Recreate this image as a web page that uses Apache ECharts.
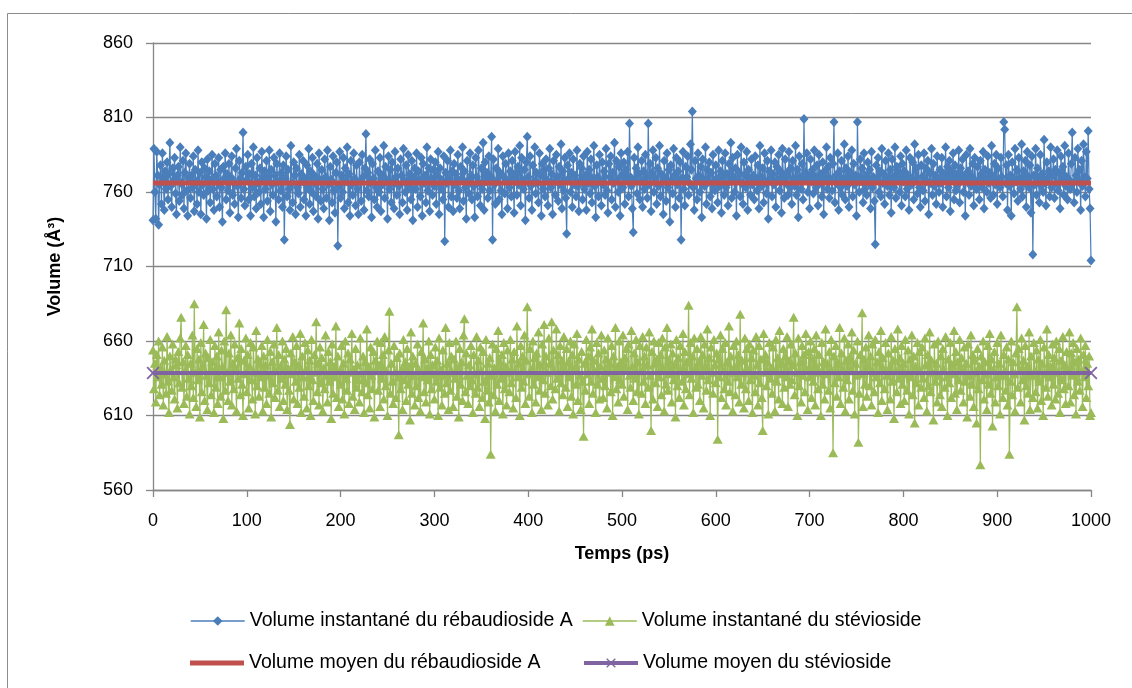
<!DOCTYPE html>
<html>
<head>
<meta charset="utf-8">
<script src="https://cdn.jsdelivr.net/npm/echarts@6/dist/echarts.min.js"></script>
<style>
  html, body { margin: 0; padding: 0; background: #fff; }
  #chart { width: 1132px; height: 688px; }
</style>
</head>
<body>
<div id="chart"></div>
<script>
// volume instantané du rébaudioside A, un point par ps (0 -> 1000)
var volRebA = [
  741,789,760,742,787,771,738,765,778,752,786,769,748,774,762,780,755,772,793,764,
  750,776,768,783,759,745,771,777,754,790,766,758,781,749,773,786,761,744,769,779,
  756,771,763,784,747,775,767,752,788,760,773,745,780,765,758,776,770,742,782,761,
  774,753,768,785,762,748,779,771,757,766,783,750,775,763,740,777,769,786,755,772,
  761,779,746,770,784,758,767,752,776,789,764,743,781,769,756,773,800,762,751,777,
  768,785,755,772,744,779,763,790,757,771,749,783,766,760,776,752,787,769,743,774,
  762,781,754,770,788,747,775,765,758,783,771,740,779,767,755,786,761,773,750,778,
  728,769,784,757,775,762,748,791,766,753,780,771,745,776,763,759,785,750,772,767,
  781,755,769,744,778,763,789,752,774,760,783,747,771,766,757,779,742,786,768,754,
  775,762,749,782,770,756,788,765,741,777,768,753,784,761,746,773,780,724,764,787,
  756,771,760,783,749,776,767,790,753,772,744,781,765,758,786,769,751,778,762,745,
  780,767,754,785,770,748,776,799,761,773,757,782,766,743,779,769,755,788,763,750,
  774,760,783,747,771,765,791,756,777,768,742,784,762,775,753,780,766,749,787,770,
  758,776,764,745,782,771,753,789,767,760,778,748,785,763,772,755,781,741,769,776,
  762,786,750,774,768,757,783,744,779,766,771,753,790,761,776,747,782,769,758,775,
  764,780,752,771,787,745,776,762,768,755,784,727,773,766,781,750,769,788,757,774,
  747,779,765,772,756,785,761,749,777,769,790,754,774,763,742,781,768,759,786,771,
  755,778,764,743,783,770,757,788,766,751,776,762,793,748,780,767,773,756,784,761,
  770,797,728,782,765,752,776,768,789,755,773,761,745,784,770,759,779,767,749,786,
  763,774,757,781,769,746,787,772,758,777,765,791,751,783,768,762,775,741,780,797,
  770,756,784,764,748,778,767,790,759,773,766,753,786,771,744,779,762,775,757,782,
  768,751,776,789,763,772,745,781,767,758,785,770,754,777,765,792,749,774,761,783,
  756,732,778,769,786,760,773,750,782,765,771,757,788,764,747,779,768,776,755,784,
  762,771,748,787,766,775,759,782,753,769,791,764,743,778,770,757,785,767,751,780,
  765,774,758,789,761,746,779,770,784,755,773,766,793,750,781,768,760,777,744,786,
  771,763,780,752,775,769,787,757,806,770,764,749,733,783,768,776,759,790,772,755,
  767,781,750,774,762,785,770,756,806,765,779,747,773,788,760,769,783,752,776,764,
  791,757,772,766,745,781,769,754,786,763,775,740,778,768,759,789,771,750,783,765,
  774,756,780,728,769,787,762,751,777,770,784,758,766,792,775,814,763,748,781,769,
  755,786,771,760,777,743,782,768,764,790,752,775,767,780,757,773,749,785,766,761,
  778,769,753,788,764,774,746,781,770,758,786,763,772,751,779,767,793,756,783,770,
  760,776,744,785,768,773,757,790,766,752,780,771,763,787,748,775,769,758,782,765,
  771,755,784,768,761,778,749,791,770,764,776,753,786,767,759,781,742,774,769,788,
  757,772,765,780,750,777,768,785,761,774,746,789,770,756,782,766,773,758,787,763,
  776,752,781,769,764,791,758,775,743,784,770,762,779,755,809,768,773,786,760,771,
  749,782,767,775,759,788,770,763,778,751,785,766,772,757,780,745,774,769,790,762,
  777,756,783,768,761,779,807,753,771,766,786,748,774,763,781,758,769,792,755,776,
  764,784,750,773,768,788,757,779,765,771,744,807,770,760,782,767,776,753,786,762,
  771,758,780,766,775,749,787,763,770,754,725,778,768,783,760,774,757,789,766,772,
  752,781,769,764,786,758,775,746,782,770,763,790,756,777,768,773,760,784,751,779,
  767,774,757,788,762,771,748,783,769,765,780,755,792,768,776,759,785,763,750,778,
  770,761,786,754,776,767,781,745,773,766,789,758,779,764,771,752,784,769,760,775,
  766,783,750,772,768,790,757,777,763,781,747,774,769,786,755,778,761,772,765,788,
  753,776,769,782,760,771,744,785,767,774,758,789,764,770,779,751,783,766,762,777,
  768,755,781,772,763,787,749,775,769,760,784,766,773,756,791,770,758,779,765,785,
  752,776,768,763,783,770,757,807,802,766,778,748,785,764,771,744,780,769,759,789,
  767,775,754,783,769,762,792,757,774,766,781,750,787,770,763,778,746,784,718,771,
  765,789,758,776,769,753,785,764,772,760,795,768,751,780,767,774,757,790,763,771,
  782,756,775,766,788,761,773,749,784,769,777,758,791,764,770,755,786,768,762,779,
  800,766,753,783,771,760,789,767,775,748,781,764,792,770,757,787,769,801,762,749,
  714
];

// volume instantané du stévioside
var volStev = [
  654,628,645,619,651,636,660,624,642,631,656,617,647,638,625,663,633,612,650,641,
  627,658,636,621,648,644,615,653,632,662,676,629,646,618,640,657,623,651,635,611,
  645,630,664,622,685,639,616,655,634,648,609,659,626,643,671,620,652,637,614,649,
  632,661,624,646,640,612,657,629,650,618,666,636,623,654,643,608,660,627,681,639,
  620,652,633,664,617,645,628,658,642,613,649,635,672,624,655,631,610,647,638,662,
  626,651,615,643,659,634,621,656,639,611,667,630,648,623,645,636,657,613,650,629,
  644,618,661,637,625,653,609,646,632,658,622,640,669,627,651,616,643,635,660,620,
  648,631,655,614,642,627,604,652,638,663,621,646,633,657,618,644,629,665,612,650,
  636,623,659,641,615,654,630,647,610,661,634,620,651,639,673,626,645,617,656,632,
  649,613,642,628,664,637,619,653,633,646,608,658,625,643,636,670,622,650,616,640,
  631,657,621,645,611,660,635,627,652,618,648,639,665,623,641,614,655,629,644,634,
  619,662,638,626,650,612,646,632,668,624,643,615,656,637,628,653,609,647,640,660,
  627,644,616,659,635,651,621,663,630,640,610,654,680,625,645,633,618,657,639,622,
  649,636,597,652,628,641,614,661,634,646,620,655,631,643,607,666,625,650,637,617,
  645,630,658,622,640,613,653,636,672,626,648,619,642,634,660,611,651,628,644,638,
  621,656,633,647,610,662,629,641,617,654,637,625,669,632,645,614,659,627,650,639,
  616,648,635,660,623,642,609,655,631,646,620,664,675,626,652,637,618,644,630,657,
  634,612,651,638,625,663,629,647,616,656,640,622,653,633,608,661,627,645,619,649,
  584,637,658,624,642,613,655,631,667,620,646,635,651,611,659,628,643,617,654,639,
  626,661,632,648,615,653,640,622,670,636,645,610,657,629,650,633,664,618,647,683,
  638,623,655,641,612,660,631,649,619,652,636,666,627,644,614,658,634,671,625,650,
  639,617,662,645,630,673,621,654,640,628,668,635,651,613,657,632,647,624,663,641,
  629,655,616,646,636,660,623,651,611,658,642,631,665,620,648,637,614,653,633,596,
  645,627,661,638,650,618,656,633,668,625,647,640,612,659,631,652,621,643,664,635,
  622,654,630,648,615,662,639,645,626,657,610,650,636,669,628,643,619,660,634,646,
  631,664,623,649,641,655,614,658,637,629,667,643,620,652,635,661,626,646,611,657,
  640,625,663,633,650,618,656,644,629,666,637,600,653,621,660,645,632,648,616,659,
  636,651,624,662,642,613,656,631,669,627,647,638,658,619,652,634,644,609,661,630,
  649,622,657,640,633,665,617,653,628,646,638,684,624,659,635,650,612,662,641,629,
  655,631,646,620,663,637,651,615,658,643,627,668,634,649,610,656,639,625,661,644,
  632,652,594,648,636,664,622,655,640,628,659,617,646,633,670,626,650,639,613,657,
  643,624,660,636,651,619,678,631,647,639,615,662,628,655,641,620,658,634,649,612,
  654,637,626,663,644,617,657,632,648,622,600,665,639,651,630,646,611,659,635,642,
  625,656,640,613,661,633,649,621,667,638,645,618,655,629,650,636,663,616,647,631,
  658,634,644,676,624,652,639,610,662,630,646,619,657,637,651,626,665,641,614,653,
  636,660,622,648,633,655,617,664,642,628,651,639,610,659,631,646,621,668,638,645,
  627,653,615,661,640,585,650,632,657,623,645,636,669,618,652,641,629,662,613,647,
  634,658,621,649,640,666,627,654,611,645,637,660,592,625,651,638,679,616,648,631,
  656,623,643,664,630,650,617,658,639,626,661,636,646,612,653,632,667,620,649,641,
  628,659,637,614,652,642,621,663,633,647,608,655,640,626,668,635,649,618,657,631,
  645,620,661,638,627,654,611,648,636,664,624,650,605,643,632,659,617,653,640,629,
  656,635,622,662,644,613,651,630,666,626,647,639,607,658,633,645,619,660,637,624,
  650,616,655,641,629,663,636,610,648,632,659,622,644,638,667,625,653,614,646,634,
  661,627,649,640,619,656,633,645,609,658,637,623,664,631,651,616,647,639,605,655,
  628,643,577,650,634,660,621,646,638,614,657,631,665,625,648,603,641,653,619,636,
  659,630,645,611,664,637,622,651,640,627,656,617,648,584,633,660,624,646,638,613,
  652,683,629,655,641,619,662,634,647,607,657,630,643,625,666,614,650,637,622,659,
  640,626,654,615,648,633,661,620,645,610,656,638,629,668,623,651,636,643,617,658,
  631,649,621,660,639,625,655,612,647,634,663,628,644,618,653,641,630,666,619,652,
  637,659,624,646,611,655,633,648,627,662,640,616,651,636,657,622,645,630,650,610,
  612
];

// volumes moyens (droite horizontale entre 0 et 1000 ps)
var meanTimes = [0, 1000];
var meanRebA = [766, 766];
var meanStev = [638.5, 638.5];

var yTicks = [560, 610, 660, 710, 760, 810, 860];
var xTicks = [0, 100, 200, 300, 400, 500, 600, 700, 800, 900, 1000];

var names = [
    'Volume instantané du rébaudioside A',
    'Volume instantané du stévioside',
    'Volume moyen du rébaudioside A',
    'Volume moyen du stévioside'
];

function toPairs(vals) {
    var out = [];
    for (var i = 0; i < vals.length; i++) out.push([i, vals[i]]);
    return out;
}
function toPairsT(times, vals) {
    var out = [];
    for (var i = 0; i < vals.length; i++) out.push([times[i], vals[i]]);
    return out;
}

var FONT = 'Liberation Sans, Arial, sans-serif';
var crossIcon = 'path://M0,1L1,0L5,4L9,0L10,1L6,5L10,9L9,10L5,6L1,10L0,9L4,5Z';

function legendAt(item, left, top, lw, ih) {
    return {
        data: [item],
        left: left,
        top: top,
        itemWidth: 54,
        itemHeight: ih || 12,
        itemGap: 5,
        padding: 0,
        selectedMode: false,
        lineStyle: { width: lw },
        textStyle: { fontFamily: FONT, fontSize: 19.5, color: '#000' }
    };
}

var myChart = echarts.init(document.getElementById('chart'));
myChart.setOption({
    animation: false,
    backgroundColor: '#fff',
    graphic: [{
        type: 'rect',
        shape: { x: 7.5, y: 13.5, width: 1200, height: 700 },
        style: { fill: 'none', stroke: '#8c8c8c', lineWidth: 1 },
        silent: true
    }],
    legend: [
        legendAt(names[0], 190, 611, 1.5),
        legendAt(names[1], 582, 611, 1.5),
        legendAt({ name: names[2], icon: 'rect' }, 190, 653, 5, 5),
        legendAt(names[3], 582, 653, 4)
    ],
    grid: { left: 153, top: 43, width: 938, height: 447, containLabel: false },
    xAxis: {
        type: 'value',
        min: xTicks[0],
        max: xTicks[xTicks.length - 1],
        interval: 100,
        name: 'Temps (ps)',
        nameLocation: 'middle',
        nameGap: 55,
        nameTextStyle: { fontFamily: FONT, fontSize: 18, fontWeight: 'bold', color: '#000' },
        axisLine: { show: true, lineStyle: { color: '#868686', width: 1.3 } },
        axisTick: { show: true, length: 7, lineStyle: { color: '#868686', width: 1.3 } },
        axisLabel: {
            fontFamily: FONT, fontSize: 18, color: '#000', margin: 22,
            formatter: function (v) { return String(v); }
        },
        splitLine: { show: false }
    },
    yAxis: {
        type: 'value',
        min: yTicks[0],
        max: yTicks[yTicks.length - 1],
        interval: 50,
        name: 'Volume (Å³)',
        nameLocation: 'middle',
        nameGap: 89,
        nameTextStyle: { fontFamily: FONT, fontSize: 18, fontWeight: 'bold', color: '#000' },
        axisLine: { show: true, lineStyle: { color: '#868686', width: 1.3 } },
        axisTick: { show: true, length: 7, lineStyle: { color: '#868686', width: 1.3 } },
        axisLabel: {
            fontFamily: FONT, fontSize: 18, color: '#000', margin: 20,
            formatter: function (v) { return String(v); }
        },
        splitLine: { show: true, lineStyle: { color: '#868686', width: 1.3 } }
    },
    series: [
        {
            name: names[0],
            type: 'line',
            z: 2,
            data: toPairs(volRebA),
            symbol: 'diamond',
            symbolSize: [9, 10],
            showAllSymbol: true,
            clip: false,
            itemStyle: { color: '#4a7ebb' },
            lineStyle: { color: '#4a7ebb', width: 1.2 }
        },
        {
            name: names[1],
            type: 'line',
            z: 2,
            data: toPairs(volStev),
            symbol: 'triangle',
            symbolSize: [10, 9],
            showAllSymbol: true,
            clip: false,
            itemStyle: { color: '#9bbb59' },
            lineStyle: { color: '#9bbb59', width: 1.2 }
        },
        {
            name: names[2],
            type: 'line',
            z: 5,
            data: toPairsT(meanTimes, meanRebA),
            symbol: 'none',
            clip: false,
            itemStyle: { color: '#c0504d' },
            lineStyle: { color: '#c0504d', width: 5 }
        },
        {
            name: names[3],
            type: 'line',
            z: 5,
            data: toPairsT(meanTimes, meanStev),
            symbol: crossIcon,
            symbolSize: 13,
            clip: false,
            itemStyle: { color: '#8064a2' },
            lineStyle: { color: '#8064a2', width: 4 }
        }
    ]
});
window.addEventListener('resize', function () {
    myChart.resize();
});
</script>
</body>
</html>
